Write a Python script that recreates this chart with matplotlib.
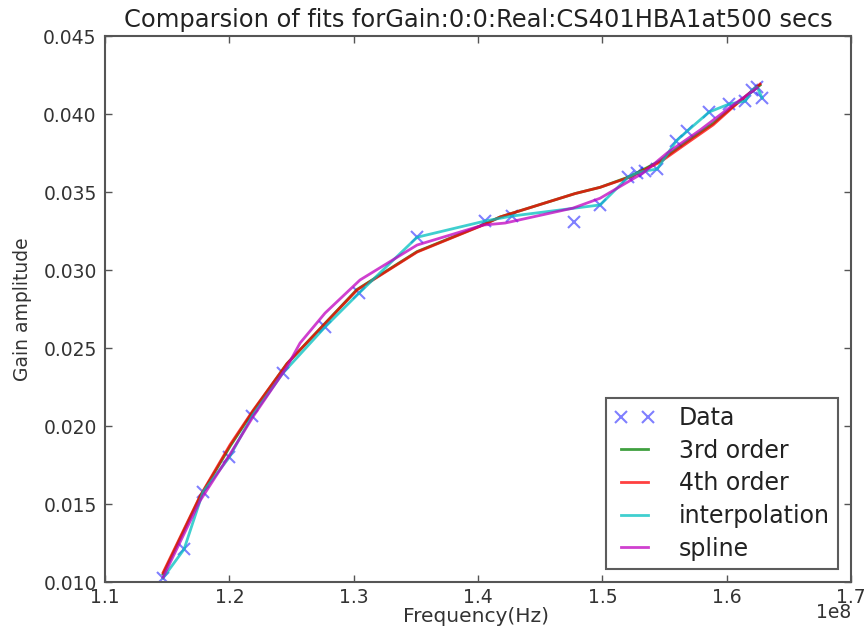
import matplotlib
matplotlib.use("Agg")
import matplotlib.pyplot as plt
import numpy as np

# Data (frequency in units of 1e8 Hz)
data_x = [1.1467, 1.1636, 1.1788, 1.2000, 1.2183, 1.2432, 1.2770, 1.3044, 1.3510,
          1.4057, 1.4274, 1.4773, 1.4982, 1.5208, 1.5280, 1.5344, 1.5441, 1.5594,
          1.5683, 1.5860, 1.6020, 1.6150, 1.6205, 1.6245, 1.6285]
data_y = [0.01026, 0.01210, 0.01577, 0.01800, 0.02064, 0.02340, 0.02635, 0.02853, 0.03210,
          0.03314, 0.03346, 0.03308, 0.03417, 0.03596, 0.03622, 0.03635, 0.03647, 0.03827,
          0.03891, 0.04013, 0.04064, 0.04083, 0.04154, 0.04173, 0.04103]

fit3_x = [1.1467, 1.1764, 1.2006, 1.2191, 1.2464, 1.3027, 1.3510, 1.4041, 1.4178,
          1.4781, 1.4982, 1.5224, 1.5465, 1.5682, 1.5891, 1.6052, 1.6269]
fit3_y = [0.01050, 0.01545, 0.01870, 0.02095, 0.02400, 0.02875, 0.03118, 0.03290, 0.03340,
          0.03490, 0.03530, 0.03600, 0.03700, 0.03825, 0.03940, 0.04050, 0.04185]

fit4_x = [1.1467, 1.1764, 1.2006, 1.2191, 1.2464, 1.3027, 1.3510, 1.4041, 1.4178,
          1.4781, 1.4982, 1.5224, 1.5465, 1.5682, 1.5891, 1.6052, 1.6269]
fit4_y = [0.01060, 0.01550, 0.01880, 0.02100, 0.02400, 0.02872, 0.03115, 0.03288, 0.03340,
          0.03490, 0.03530, 0.03596, 0.03692, 0.03814, 0.03930, 0.04045, 0.04192]

interp_x = [1.1467, 1.1636, 1.1788, 1.2000, 1.2183, 1.2432, 1.2770, 1.3044, 1.3510,
            1.4057, 1.4274, 1.4982, 1.5208, 1.5280, 1.5344, 1.5441, 1.5594,
            1.5683, 1.5860, 1.6020, 1.6150, 1.6205, 1.6245, 1.6285]
interp_y = [0.01026, 0.01210, 0.01577, 0.01800, 0.02064, 0.02340, 0.02635, 0.02853, 0.03210,
            0.03314, 0.03346, 0.03417, 0.03596, 0.03622, 0.03635, 0.03647, 0.03827,
            0.03891, 0.04013, 0.04064, 0.04083, 0.04154, 0.04173, 0.04103]

spline_x = [1.1467, 1.1764, 1.2006, 1.2191, 1.2464, 1.2569, 1.2770, 1.3051, 1.3510,
            1.4041, 1.4218, 1.4765, 1.4982, 1.5328, 1.5521, 1.5786, 1.6052, 1.6245]
spline_y = [0.01030, 0.01520, 0.01820, 0.02060, 0.02380, 0.02532, 0.02724, 0.02936, 0.03160,
            0.03288, 0.03301, 0.03397, 0.03460, 0.03622, 0.03750, 0.03897, 0.04058, 0.04167]

x_ticks = [1.1, 1.2, 1.3, 1.4, 1.5, 1.6, 1.7]
y_ticks = [0.010, 0.015, 0.020, 0.025, 0.030, 0.035, 0.040, 0.045]

plt.rcParams['font.family'] = ['DejaVu Sans']
fig = plt.figure(figsize=(8.65, 6.27), dpi=100, facecolor='white')
ax = fig.add_axes([105/865, 1-582/627, (851-105)/865, (582-36)/627])

sc = 1e8
ax.plot(np.array(data_x)*sc, data_y, 'x', color='blue', alpha=0.5, ms=9, mew=1.5, label='Data')
ax.plot(np.array(fit3_x)*sc, fit3_y, '-', color='green', alpha=0.75, lw=2, label='3rd order')
ax.plot(np.array(fit4_x)*sc, fit4_y, '-', color='red', alpha=0.75, lw=2, label='4th order')
ax.plot(np.array(interp_x)*sc, interp_y, '-', color=(0, 0.75, 0.75), alpha=0.75, lw=2, label='interpolation')
ax.plot(np.array(spline_x)*sc, spline_y, '-', color=(0.75, 0, 0.75), alpha=0.75, lw=2, label='spline')

ax.set_xlim(1.1e8, 1.7e8)
ax.set_ylim(0.010, 0.045)
ax.set_xticks(np.array(x_ticks)*sc)
ax.set_yticks(y_ticks)
ax.set_yticklabels([f"{v:.3f}" for v in y_ticks])
ax.set_xticklabels([f"{v:.1f}" for v in x_ticks])

ax.tick_params(direction='in', top=True, right=True, length=5, width=1, colors='#555555',
               labelcolor='#333333', labelsize=13.5)
ax.tick_params(axis='x', pad=4)
ax.tick_params(axis='y', pad=6)
for s in ax.spines.values():
    s.set_color('#555555')
    s.set_linewidth(1.5)

fig.text(476/865, 1-616/627, 'Frequency(Hz)', fontsize=14.5, color='#333333', ha='center', va='center')
fig.text(851/865, 1-613/627, '1e8', fontsize=13.5, color='#333333', ha='right', va='center')
ax.set_ylabel('Gain amplitude', fontsize=13.5, color='#333333', labelpad=8)
fig.text(478/865, 1-27/627, 'Comparsion of fits forGain:0:0:Real:CS401HBA1at500 secs',
         fontsize=17.4, color='#222222', ha='center', va='baseline')

leg = ax.legend(loc='lower right', numpoints=2, fontsize=17, frameon=True, fancybox=False,
                borderpad=0.35, labelspacing=0.37, handlelength=1.75, handletextpad=1.0,
                borderaxespad=0.55)
leg.get_frame().set_edgecolor('#333333')
leg.get_frame().set_linewidth(1.5)
for t in leg.get_texts():
    t.set_color('#222222')

fig.savefig('out.png', dpi=100, facecolor='white')
